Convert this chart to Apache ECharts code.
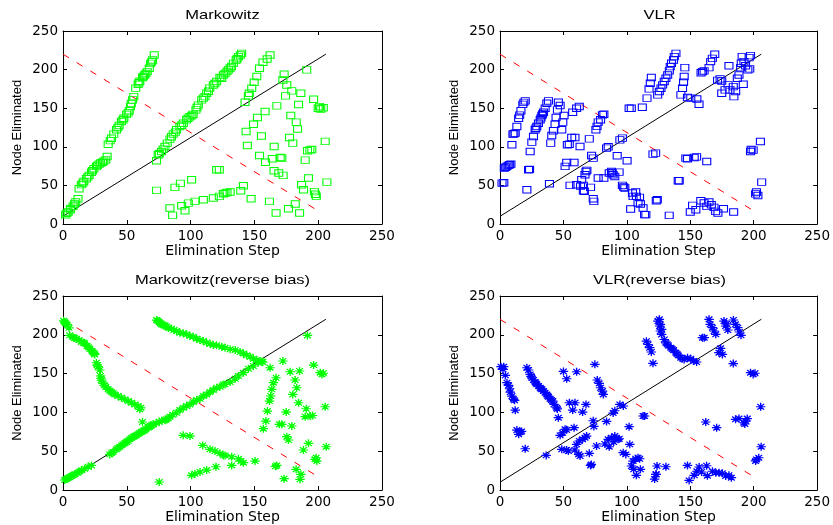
<!DOCTYPE html>
<html>
<head>
<meta charset="utf-8">
<script src="https://cdn.jsdelivr.net/npm/echarts@6/dist/echarts.min.js"></script>
<style>
html,body{margin:0;padding:0;background:#fff;}
#chart{width:833px;height:525px;}
</style>
</head>
<body>
<div id="chart"></div>
<script>
// ---- data ----
const panelTitles = ['Markowitz', 'VLR', 'Markowitz(reverse bias)', 'VLR(reverse bias)'];
const xAxisName = 'Elimination Step';
const yAxisName = 'Node Eliminated';
const axisTicks = [0, 50, 100, 150, 200, 250];
const diagLine = [[0, 10], [206, 220]];
const antiDiagLine = [[0, 220], [201, 16]];

const markowitzPts = [
[2,12],[4,15.5],[5.8,18.5],[7.9,23],[10,28.4],[11.8,32.8],[3,14],[6,20],[9,26],
[12.6,45.7],[14.4,51],[16.3,55],[18.4,58.6],[20.5,63],[22.3,67],[24.2,71.6],[26.2,74.6],[28.3,77.6],[31,80],[33.5,83],[34.6,87.5],[15.5,53],[19.5,61],[23,69],[27,76],[29.5,79],[32,81.5],
[35.4,103.4],[38,111],[39.8,116.4],[41.9,122],[44,127.6],[45.8,132.8],[47.7,137],[49.8,142],[51.9,146.6],[52.9,152],[54.5,160.8],[55.5,165],[37,108],[43,125],[47,135],[51,144],[53.5,156],
[57,176],[58.9,181],[60.2,185],[62.3,189.7],[64,193],[66,197.4],[67.6,201.7],[68.6,208],[70.2,212.5],[71.5,219],[59.5,183],[63,191],[65,195],[69.5,210],
[73.3,81.9],[74.6,89.7],[77.2,94],[79.9,100.4],[81.7,104.7],[83.8,110],[86.4,116.4],[89,122],[91.6,126.3],[94.3,130.6],[96.9,135],[99.5,139],[102,142],[104.2,147.8],[106,154],[108.7,160.8],[111.3,165],[112.6,169.4],[115,176],[117.8,180],[120.4,184.5],[123,189.7],[125.7,193],[124.4,188.8],[127,195],[129.6,199.6],[132,204],[133.5,208],[135.7,212.5],[137.5,216.8],[140,221],[75.5,91],[78.5,97],[85,113],[88,119],[93,128],[98,137],[101,140.5],[105,151],[110,163],[114,172],[119,182],[128.5,197.5],[131,202],[136.5,214],[139,219],
[162.3,219],[160,213.8],[156.7,209.5],[154,201.7],[151.9,191],[149.8,183.6],[147.9,175.9],[146,169.4],[145.3,166],[142.7,157.8],
[173.3,194],[172.3,186.6],[175.4,180],[179.3,172.4],[174.4,166],[186.4,169.4],[191,199.6],[167.6,153],[158.4,145.7],[152.4,138],[149.3,129.3],[143.5,119.8],[144.5,101.7],[155.5,114],[184.6,154.7],[178.5,140.5],[182.8,132],[183.8,123],[177.5,112],[180.1,104.7],[196.4,161.6],[200,150],[202,149],[204,150.5],[201,152],[165.5,100.4],[154,88.8],[164,84.5],[170.2,86.2],[171.5,85.5],[158.7,80],[165.4,69],[169.1,66],[172.5,63],[191.6,94.8],[193.5,96],[195,96.5],[189.8,82.8],[205.5,107],[192.4,59.5],[187,50.9],[188.5,44.4],[206.8,54.3],[197,42],[198.5,35.8],[197.8,38.5],[161.8,29.3],[147.4,32.8],[141.4,49.5],[139.3,43],[176.7,19.8],[182,25.9],[185.4,14.2],[167,14.2],
[73.3,43.5],[87.7,47.4],[92,52.6],[100.8,57.3],[83.8,20.7],[85.9,11.2],[93,23.7],[95.6,17.2],[98.2,27],[103.4,29.3],[110,31.5],[117.8,33.6],[122.5,35.8],[125.7,39.2],[127,40],[128.5,40.8],[131,41.4],[120.4,70.3],[122.5,70.3]
];

const vlrPts = [
[1.6,53],[3,53.5],[3.4,72.4],[5.5,74.6],[7.6,76.7],[8.6,77.6],[4.5,73.5],[6.5,76],
[9.4,102.6],
[10.2,116.4],[12,117.7],[13.3,126.3],[14.7,137],[16.5,146.6],[18,155],[19.9,159.5],[18.8,157.5],[11,117],[15.5,141],
[21.2,44.4],[22.5,70.3],[23.3,70.8],
[23.8,94],[25.1,106],[26.4,113.4],[27.7,122],[29,126.3],[30.3,130.6],[31.7,135],[33,140.5],[34.3,144.8],[35.6,150],[36.9,156.5],[38.2,159.5],[28.3,124],[32.3,137.5],[33.6,142.5],
[39,52.2],
[40,104.7],[40.8,114.7],[42.1,120.7],[43.4,129.3],[44.2,138],[45.3,147.8],[46,157.8],[47.4,153.4],
[48.7,122],[49.5,131.9],[50.5,140.5],
[51.3,74.6],[52.6,79.7],[53.1,102.6],[54.6,103.3],[55.2,50],[60.4,50.9],[56.5,112],[59.1,112],
[57.3,144.8],[60.4,150],[62.5,152.2],[58.4,79.7],[63.1,100.4],
[64.4,57.3],[65.7,50],[63.5,49],[65.7,43],[66.5,42.5],[67,63.8],[67.8,68],[68.5,69.5],
[70.4,110.3],[72.2,88.8],[73.5,85.3],[71.4,47.4],[73.5,32.8],[74,29.3],
[75.6,122],[77.4,131.9],[79.3,135],[80.8,141.4],[81.9,142.2],[76.5,126.5],
[77.4,59.5],[81.9,59.5],[84,98.3],[85.3,100],
[86.1,66],[87.9,68],[89.2,63.8],[90.5,61.6],[93.9,67.2],[88.5,66],
[92.4,88.4],[94.5,109],[96.5,111.2],[96.5,50],[98.4,46.6],[97.5,48],[100.2,81.9],[103,19.4],
[104.4,40.1],[107,41.4],[107.5,35.8],[104.9,35.8],[110,34.5],[108.8,27.2],[110.7,25.9],[112.8,20.7],[114,12.1],[115,12.1],
[101.8,150],[103.5,150],[112.2,151.3],[115.9,163],[117.5,175],[118.5,182.3],[119.3,189.7],
[120.6,90.5],[122.7,91.8],[123.2,30.2],[124,31.5],
[124.3,167.2],[125.6,171.6],[126.9,175.9],[128.2,180.2],[129.5,184.5],[130.8,188.8],[132.2,193],[133.5,198.3],[134.2,203.9],[135.2,208.2],[136.8,212.5],[137.4,216.8],[138.7,221],
[133.4,11.2],[140.5,56],[141.3,56],
[142.6,167.2],[143.9,175.9],[144.7,183.6],[145.2,191],[145.7,202.6],
[146.5,85.3],[147.8,84.5],[153.1,86.2],[155,87],
[147.8,163.8],[150.4,163],[155.2,162],[156.9,155.2],
[159.6,197.4],[160.9,198.3],[158.5,196],[163,81],
[151.8,24.1],[154.4,18.5],[158.3,30.2],[150,15.5],
[160.9,27.2],[163,22.8],[164.8,28.4],[166.6,25],[168.7,21.5],[170,16.4],[171.8,14.2],
[164.8,202.6],[166.1,210.3],[167.4,214.6],[169.3,219.8],
[173.5,188],[174.8,185.3],[171.5,186],[174.8,169.4],[177.4,173.7],[176.2,19.8],[180.5,205],
[179.8,180.2],[181.3,173.7],[183.9,178],[184.4,165],[185.8,171.6],[184.2,15.5],
[187.1,188.8],[188.4,193],[189.7,202.6],[190.2,208.2],[191.8,181],
[190.9,216.8],[192.3,210.3],[195.4,199.6],[193.6,205],[196.4,215.5],[197.5,218.1],[196.9,201],
[197.5,94],[199.6,95.7],[198,96.5],[205.3,106.9],[202.2,41.4],[203.3,37],[201.5,39],[206.3,54.3]
];

const markowitzRevPts = [
[1.3,216.4],[3.2,213.4],[4.7,209],[0.5,218],[2,215],
[5.3,199.3],[7.9,197],[10.5,195],[12.6,193.3],[14.4,190.7],[17,189],[18.9,185.5],[21,182],[22.8,179],[24.4,176],[24.9,174.7],[9,196],[16,190],[20,184],[23.5,177.5],
[26.2,164],[27.5,158.9],[28.8,154.6],[26.8,161],[29.4,146.9],[30.1,141.7],[31.4,137.4],[33.5,133.1],[35.4,129.7],[38,126.2],[40.6,123.2],[43.2,121],[45.8,118.9],[48.5,116.8],[51.1,114.6],[53.7,112.5],[56.3,110.3],[58.9,108.2],[60.2,103.9],[61,106],[29.8,144],[32.4,135],[36.7,128],[39.3,124.7],
[62.3,87.6],
[73.3,219],[75.4,216.4],[77.2,213.4],[79.9,212],[82.5,209.2],[85.1,207.9],[86.9,206.2],[89,204.9],[91.6,202.7],[94.2,201.9],[96.9,200.6],[99.5,198.4],[102,197.6],[104.7,195],[107.3,193.3],[109.9,192],[112.6,189.9],[115.3,188.6],[117.8,186.8],[120.4,186.4],[124.4,184.7],[127,183.4],[131,181.3],[135,180.4],[138.8,177.8],[141.4,176],[144,173.5],[146.7,171.7],[149.2,169.1],[151.9,167.5],[154.5,166.2],[156.6,164.9],[74.3,218],[76.3,215],[78.5,213],[81.2,210.5],
[1.3,12.9],[3.9,15.4],[6.6,18],[9.2,20.2],[11.8,22.3],[14.4,25.3],[17,27.4],[19.7,30],[22.3,31.7],[2.5,14],[5.2,16.5],[8,19],[13,24],
[36.7,45.9],[39.3,48.9],[41.9,52.4],[44.5,55.8],[47.1,58.8],[49.8,61.8],[52.4,65.3],[55,68.7],[57.6,70.4],[60.2,73.8],[62.9,76],[64.9,78.2],[66.8,80.3],[68.6,82.5],[70.7,84.6],[38,47.5],[43,54],[46,57.5],[48.5,60.5],[51,63.5],[53.7,67],[56.3,69.5],[59,72],[61.5,75],[63.8,77],[67.7,81.5],[69.5,83.5],
[73,86],[75.5,88],[77.5,89.5],[80,90],[81.2,91],[82.5,92.5],[83.8,94.5],[86,97],
[89,99.6],[91.6,103],[94.3,106],[96.9,108.2],[99.5,110.3],[102.1,113.4],[104.7,115.9],[107.4,117.6],[110,121],[112.6,123.2],[115.2,126.2],[117.8,128.8],[120.4,131.8],[123,133.1],[125.7,136.1],[127,136.1],[131,139.1],[135,143.4],[137.5,146.9],[141.4,151.2],[145.3,156.3],[149.2,159.8],[153.1,164],[156,165.5],[191.6,199.2],
[94.2,70.4],[99.5,69.5],[109.5,57.5],[115.2,52.4],[119.1,50.2],[123,47.2],[125.7,44.6],[127,44.6],[132.2,42.9],[137.5,40.3],[141.4,35.2],[139.5,37],[150.5,37.3],[132.2,31.7],[100.8,18.9],[103.4,21],[107.4,23.2],[112.6,25.7],[119.9,30],[75.4,10.3],
[162.3,157.6],[172.3,166.2],[178,152.4],[185.4,153.3],[196.4,161],[201.6,151.2],[202.9,149],[204,150.5],[167,144.6],[164.9,138.3],[163.6,129.7],[162.8,121.1],[161.8,114.6],[181.9,141.7],[183.2,131.8],[180.1,123.2],[184.6,112.5],[160.2,101.7],[174.9,100.4],[190.6,104.7],[205.5,107.3],[189.8,94.5],[193.7,95.4],[195.5,96],[159,88.8],[157,79],[169.6,84.6],[171.5,84.6],[179.3,82.5],[175.4,68.7],[176.7,64.4],[192.4,60.1],[188.4,51.5],[206.3,55.8],[198.4,41.6],[198.9,37.3],[197.5,39.5],[167.5,31.7],[166.5,30.5],[182.7,26.6],[186.4,20.2],[185.8,13.7],[173.3,14.6]
];

const vlrRevPts = [
[0.8,158.9],[2.9,158.9],[2.4,155.5],[4.2,147.7],[5.5,138.3],[6.8,134.9],[7.6,130.5],[8.1,126.2],[9.4,121],[10.7,116.8],[11.5,115.5],[12,102.9],[13.3,77.2],[15.9,74.7],[14.7,71.7],[17,75.5],[19.9,53.2],
[21.2,157.6],[22.5,154.6],[23.8,149],[25.1,144.7],[26.4,141.7],[27.7,139.1],[29,136.1],[30.4,134],[31.7,131.8],[33,129.7],[34.3,127.5],[35.6,125.4],[36.9,123.2],[38.2,120.2],[39.5,117.6],[41.6,114.6],[42.6,110.3],[44.7,106],[45.2,104.5],[24.5,146.5],[28.3,137.5],[32.3,130.5],[37.5,121.5],[40.5,116],
[46,93.2],[36.4,44.6],[47.4,70.4],[49.4,73.8],[51.3,78.2],[52.5,77.5],[50,152.8],[52.6,143.3],[60.4,152.4],[54.7,112.5],[59.1,112.5],[57.3,103],[58.4,80.3],[65.1,100.4],[67.8,110.3],
[48.7,52.4],[53.9,50.2],[52.5,51.5],[59.1,51.5],[60.4,58.8],[62.5,63.1],[65.1,65.3],[67,67.4],[68.3,69.5],[63.1,43.8],[62,46],[70.4,47.2],[71.4,31.7],[72,33],[73.5,89.2],[74,81.9],[76.1,56.7],[74.8,161.9],
[76.7,141.7],[78.2,137.4],[79.3,131.8],[80.8,127.5],[81.4,123.2],[84,88.4],
[82.7,59.3],[85.3,65.3],[87.9,67.4],[89.6,61.8],[86.1,55.8],[90.5,69.5],[93.1,65.3],[94,66],
[89.2,99.1],[90.5,102.1],[94.5,110.3],[97.2,108.2],[97.1,48.1],[99.2,45.9],[101.8,81.6],[102.3,58.8],
[103.6,30.9],[104.9,37.3],[107,40.3],[108.8,41.6],[110.1,40.3],[105.4,26.6],[107.5,18.9],[110.7,26.6],[112.8,95.4],[114,95.4],
[115.4,191.8],[116.7,187.5],[118,183.4],[119.3,177.8],[120.6,163.2],[121.9,14.1],[123.2,20.2],[123.8,30.9],[122.9,20.2],
[124.5,217.7],[125.8,211.3],[126.4,204.9],[125.6,219.9],[126.4,213.5],[127.4,207],[127.4,200.5],[129.5,193.9],[130.8,189.6],[132.7,186.2],[134.7,183.2],[136.8,180.4],[138.7,177],[140.5,173.5],[142.5,170.5],[145.2,168.3],[147.8,170.5],[150.4,169.1],[152.5,166.2],[155,164.9],[131.8,187.8],[135.7,181.8],[139.6,175.3],[143.8,169.5],
[130.8,30],[147.8,31.7],[149.1,12.4],[153.1,18.9],[155.2,24.1],[157,29.6],[158.9,23.2],[162.9,31.3],[163.5,18.5],[167.5,24.1],[170.1,22.3],[172.7,22.3],[175.3,21.5],[177.9,18.1],[180.5,19],[182.4,15.9],
[159.6,196.3],[161,196.3],[164.8,219.9],[165.7,213.5],[167.5,209.2],[168.8,204.9],[170.1,200.6],[162.2,87.6],[170.8,80.3],[173.9,182.6],[172.6,177],[175.3,174.7],[176.6,217.7],[177.9,211.3],[179.6,206.2],[178.5,214],[184,219.1],[185.6,213.5],[187.4,209.2],[188.7,203.6],[190,199.3],[183.9,162.9],[185.7,91.1],[188.4,92],[192.3,86.7],[193.6,88.8],[194.9,92],[193,85],[197.5,151.2],[199.6,149],[201,150.5],[205.5,107.3],[202.2,39.4],[204,41.6],[201.5,37.5],[205.9,55.8]
];

// ---- chart ----
const chart = echarts.init(document.getElementById('chart'), null, {renderer: 'canvas'});

const grids = [
  {left: 63, top: 31, width: 319, height: 193},
  {left: 500, top: 31, width: 319, height: 193},
  {left: 63, top: 296, width: 319, height: 194},
  {left: 500, top: 296, width: 319, height: 194}
];
const panelData = [markowitzPts, vlrPts, markowitzRevPts, vlrRevPts];
const panelColor = ['#00ff00', '#0000ff', '#00ff00', '#0000ff'];
const starPath = 'path://M0,-10L0,10M-10,0L10,0M-7.07,-7.07L7.07,7.07M-7.07,7.07L7.07,-7.07';
const panelSymbol = ['rect', 'rect', starPath, starPath];
const panelSymbolSize = [[8, 6.5], [8, 6.5], [9.5, 8], [9.5, 8]];
const panelStroke = [1, 1, 1.25, 1.25];

const tickFont = {fontFamily: 'DejaVu Sans', fontSize: 13.5, color: '#000'};
const axisLine = {show: true, onZero: false, lineStyle: {color: '#000', width: 1}};
const axisTick = {show: true, inside: true, length: 4, lineStyle: {color: '#000', width: 1}};

const xAxes = [], yAxes = [], series = [], graphics = [];
grids.forEach((g, i) => {
  const lo = axisTicks[0], hi = axisTicks[axisTicks.length - 1], step = axisTicks[1] - axisTicks[0];
  xAxes.push({
    type: 'value', gridIndex: i, position: 'bottom', min: lo, max: hi, interval: step,
    name: xAxisName, nameLocation: 'middle', nameGap: 20,
    nameTextStyle: {fontFamily: 'DejaVu Sans', fontSize: 14, color: '#000'},
    axisLine, axisTick, splitLine: {show: false},
    axisLabel: Object.assign({margin: 5}, tickFont)
  });
  xAxes.push({
    type: 'value', gridIndex: i, position: 'top', min: lo, max: hi, interval: step,
    axisLine, axisTick, splitLine: {show: false}, axisLabel: {show: false}
  });
  yAxes.push({
    type: 'value', gridIndex: i, position: 'left', min: lo, max: hi, interval: step,
    name: yAxisName, nameLocation: 'middle', nameGap: 39,
    nameTextStyle: {fontFamily: 'Liberation Sans', fontSize: 13, color: '#000'},
    axisLine, axisTick, splitLine: {show: false},
    axisLabel: Object.assign({margin: 5}, tickFont)
  });
  yAxes.push({
    type: 'value', gridIndex: i, position: 'right', min: lo, max: hi, interval: step,
    axisLine, axisTick, splitLine: {show: false}, axisLabel: {show: false}
  });
  series.push({
    type: 'scatter', xAxisIndex: 2 * i, yAxisIndex: 2 * i, data: panelData[i],
    symbol: panelSymbol[i], symbolSize: panelSymbolSize[i],
    itemStyle: {color: 'none', borderColor: panelColor[i], borderWidth: panelStroke[i], opacity: 1},
    silent: true, z: 3
  });
  series.push({
    type: 'line', xAxisIndex: 2 * i, yAxisIndex: 2 * i, data: diagLine,
    showSymbol: false, symbol: 'none', lineStyle: {color: '#000', width: 1}, silent: true, z: 2
  });
  series.push({
    type: 'line', xAxisIndex: 2 * i, yAxisIndex: 2 * i, data: antiDiagLine,
    showSymbol: false, symbol: 'none', lineStyle: {color: '#ff0000', width: 1, type: [7, 9]}, silent: true, z: 2
  });
  graphics.push({
    type: 'text', x: g.left + g.width / 2, y: g.top - 15.5,
    scaleX: 1.27, originX: 0, originY: 0,
    style: {text: panelTitles[i], fontFamily: 'Liberation Sans', fontSize: 13, fill: '#000',
      align: 'center', verticalAlign: 'middle'}
  });
});

chart.setOption({
  animation: false,
  backgroundColor: '#fff',
  grid: grids,
  xAxis: xAxes,
  yAxis: yAxes,
  series: series,
  graphic: graphics
});
</script>
</body>
</html>
